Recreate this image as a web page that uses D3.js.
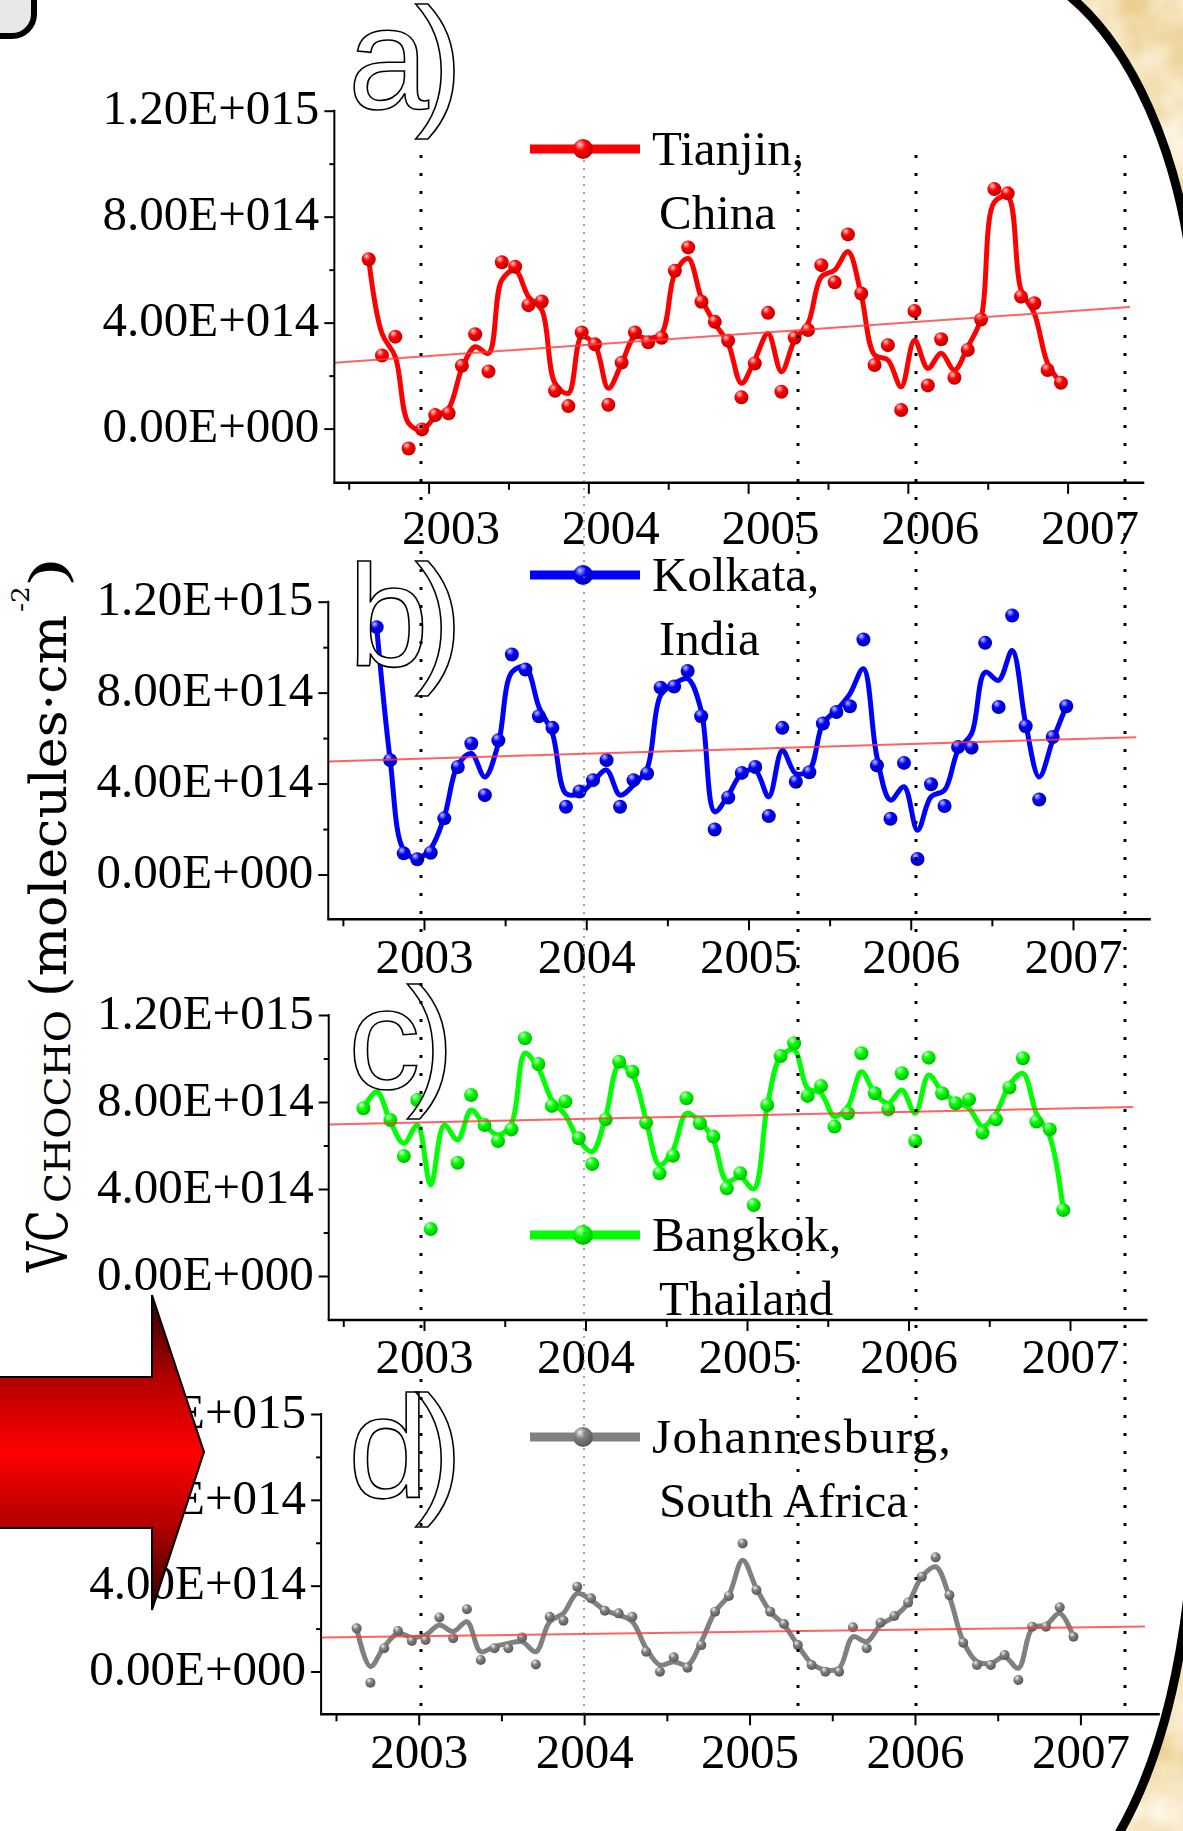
<!DOCTYPE html>
<html>
<head>
<meta charset="utf-8">
<script src="https://cdn.jsdelivr.net/npm/d3@7"></script>
<style>
  html, body { margin: 0; padding: 0; background: #fff; }
  svg { display: block; }
</style>
</head>
<body>
<script>
// -------------------- Data (column values in units of 1E+014 molecules/cm2) --------------------
const months = [
  "2002-08","2002-09","2002-10","2002-11","2002-12",
  "2003-01","2003-02","2003-03","2003-04","2003-05","2003-06","2003-07","2003-08","2003-09","2003-10","2003-11","2003-12",
  "2004-01","2004-02","2004-03","2004-04","2004-05","2004-06","2004-07","2004-08","2004-09","2004-10","2004-11","2004-12",
  "2005-01","2005-02","2005-03","2005-04","2005-05","2005-06","2005-07","2005-08","2005-09","2005-10","2005-11","2005-12",
  "2006-01","2006-02","2006-03","2006-04","2006-05","2006-06","2006-07","2006-08","2006-09","2006-10","2006-11","2006-12"
];

const tianjin = [6.39, 2.76, 3.47, -0.75, -0.03,
  0.51, 0.58, 2.37, 3.56, 2.16, 6.28, 6.11, 4.66, 4.80, 1.43, 0.85, 3.63,
  3.18, 0.90, 2.49, 3.63, 3.26, 3.43, 5.96, 6.84, 4.79, 4.03, 3.32, 1.18,
  2.46, 4.37, 1.39, 3.43, 3.72, 6.17, 5.52, 7.33, 5.10, 2.40, 3.15, 0.70,
  4.44, 1.63, 3.37, 1.92, 2.97, 4.12, 9.04, 8.88, 4.98, 4.73, 2.21, 1.73];
const tianjinFit = [6.39, 3.59, 2.71, 0.20, -0.05,
  0.45, 0.76, 2.27, 3.09, 2.84, 5.61, 5.98, 4.98, 4.48, 1.71, 1.33, 3.47,
  3.15, 1.52, 2.46, 3.47, 3.40, 3.59, 5.86, 6.42, 4.91, 3.97, 3.22, 1.71,
  2.59, 3.59, 2.15, 3.34, 3.97, 5.73, 5.98, 6.68, 5.04, 2.78, 2.59, 1.58,
  3.34, 2.27, 2.84, 2.21, 3.09, 4.16, 8.55, 8.75, 5.23, 4.35, 2.46, 1.73];

const kolkata = [null, 10.88, 5.03, 0.93, 0.67,
  0.96, 2.47, 4.73, 5.76, 3.49, 5.90, 9.68, 9.02, 6.96, 6.45, 2.98, 3.65,
  4.15, 5.03, 2.98, 4.15, 4.44, 8.22, 8.27, 8.95, 6.96, 1.98, 3.39, 4.47,
  4.73, 2.57, 6.45, 4.08, 4.50, 6.64, 7.15, 7.40, 10.34, 4.80, 2.45, 4.91,
  0.68, 3.97, 3.01, 5.61, 5.58, 10.19, 7.37, 11.39, 6.52, 3.30, 6.05, 7.40];
const kolkataFit = [null, 10.88, 5.03, 1.07, 0.71,
  1.15, 2.54, 4.81, 5.32, 4.29, 5.76, 8.90, 9.12, 7.37, 6.20, 3.56, 3.56,
  4.08, 4.59, 3.49, 3.93, 4.66, 7.88, 8.39, 8.61, 7.22, 2.76, 3.49, 4.44,
  4.59, 3.42, 5.46, 4.44, 4.59, 6.64, 7.22, 7.95, 9.05, 5.17, 3.27, 3.86,
  1.95, 3.42, 3.71, 5.46, 6.20, 8.90, 8.54, 9.85, 6.64, 4.29, 5.90, 7.40];

const bangkok = [7.71, null, 7.17, 5.52, 8.09,
  2.16, null, 5.21, 8.32, 6.94, 6.21, 6.74, 10.93, 9.75, 7.82, 8.02, 6.33,
  5.15, 7.20, 9.85, 9.39, 7.05, 4.72, 5.53, 8.17, 7.02, 6.41, 4.03, 4.72,
  3.26, 7.86, 10.11, 10.70, 8.28, 8.74, 6.87, 7.48, 10.24, 8.40, 7.66, 9.32,
  6.21, 10.04, 8.40, 7.94, 8.12, 6.59, 7.20, 8.67, 10.01, 7.10, 6.74, 3.03];
const bangkokFit = [7.71, 8.47, 7.10, 6.10, 6.94,
  4.18, 6.94, 6.25, 7.63, 6.94, 6.48, 7.02, 10.24, 9.55, 8.09, 7.40, 6.25,
  5.72, 7.33, 9.70, 9.24, 7.17, 5.10, 5.79, 7.48, 7.10, 6.25, 4.35, 4.55,
  4.00, 7.79, 10.09, 10.39, 8.63, 8.40, 7.33, 7.79, 9.39, 8.40, 7.94, 8.55,
  7.48, 9.24, 8.47, 8.02, 7.71, 6.87, 7.48, 8.78, 9.32, 7.48, 6.41, 3.03];

const johannesburg = [2.01, -0.52, 1.08, 1.89, 1.42,
  1.47, 2.52, 1.55, 2.90, 0.54, 1.08, 1.08, 1.59, 0.33, 2.55, 2.37, 3.95,
  3.41, 2.83, 2.71, 2.55, 0.92, -0.01, 0.66, 0.18, 1.23, 2.79, 3.52, 5.97,
  3.80, 2.79, 2.21, 1.23, 0.30, -0.01, -0.01, 2.06, 1.08, 2.27, 2.59, 3.21,
  4.42, 5.32, 3.56, 1.34, 0.30, 0.30, 0.77, -0.40, 2.09, 2.09, 2.99, 1.62];
const johannesburgFit = [2.01, 0.23, 1.16, 1.78, 1.59,
  1.70, 2.17, 1.86, 2.32, 0.92, 1.16, 1.31, 1.39, 0.92, 2.32, 2.71, 3.64,
  3.33, 2.86, 2.63, 2.32, 1.08, 0.30, 0.46, 0.30, 1.39, 2.79, 3.56, 5.19,
  3.87, 2.79, 2.17, 1.23, 0.38, 0.07, 0.15, 1.62, 1.39, 2.17, 2.55, 3.18,
  4.42, 4.88, 3.49, 1.39, 0.46, 0.38, 0.69, 0.15, 2.01, 2.17, 2.71, 1.62];

// linear trend lines: value at start and end year
const trendYears = [2002.41, 2007.39];
const tianjinTrend = [2.49, 4.59];
const kolkataTrend = [4.97, 6.04];
const bangkokTrend = [6.97, 7.77];
const johannesburgTrend = [1.58, 2.10];

const yTicks = [0, 4, 8, 12];
const yMinor = [2, 6, 10];
const xTicks = [2003, 2004, 2005, 2006, 2007];
const xMinor = [2002.5, 2003.5, 2004.5, 2005.5, 2006.5];
const xStart = 2002.41, xStop = 2007.48;

// -------------------- Series & layout --------------------
const series = [
  { letter: "a", label: ["Tianjin,", "China"], dots: tianjin, fit: tianjinFit, trend: tianjinTrend,
    color: "#ff0000", light: "#ffd0d0", dark: "#b80000", r: 7 },
  { letter: "b", label: ["Kolkata,", "India"], dots: kolkata, fit: kolkataFit, trend: kolkataTrend,
    color: "#0000ff", light: "#c8c8ff", dark: "#0000a8", r: 7 },
  { letter: "c", label: ["Bangkok,", "Thailand"], dots: bangkok, fit: bangkokFit, trend: bangkokTrend,
    color: "#00ff00", light: "#e0ffe0", dark: "#00b800", r: 7 },
  { letter: "d", label: ["Johannesburg,", "South Africa"], dots: johannesburg, fit: johannesburgFit, trend: johannesburgTrend,
    color: "#808080", light: "#f0f0f0", dark: "#555555", r: 5 }
];

const layout = [
  { x2003: 428.6, x2007: 1067.6, y0: 428.6, y12: 110.7, axisY: 482.8, labelDx: 22, labelDy: 61, letterY: 109, legendY: 149, labelSpacing: 0 },
  { x2003: 424.0, x2007: 1073.0, y0: 874.5, y12: 601.7, axisY: 919.3, labelDx: 0, labelDy: 54, letterY: 666, legendY: 575, labelSpacing: 0 },
  { x2003: 424.0, x2007: 1070.0, y0: 1276, y12: 1015, axisY: 1320, labelDx: 0, labelDy: 53, letterY: 1089, legendY: 1235, labelSpacing: 0 },
  { x2003: 418.7, x2007: 1080.4, y0: 1671.5, y12: 1414, axisY: 1714.3, labelDx: 0, labelDy: 54, letterY: 1497, legendY: 1437, labelSpacing: 1.5 }
];

const W = 1183, H = 1831;
const serif = "'Liberation Serif', 'Times New Roman', serif";

const toYear = s => { const [yy, mm] = s.split("-").map(Number); return yy + (mm - 0.5) / 12; };
const times = months.map(toYear);

const fmt = v => {
  const [m, e] = (v * 1e14).toExponential(2).split("e");
  return m + "E" + e[0] + e.slice(1).padStart(3, "0");
};

// -------------------- SVG --------------------
const svg = d3.select("body").append("svg").attr("width", W).attr("height", H);
const defs = svg.append("defs");

svg.append("rect").attr("width", W).attr("height", H).attr("fill", "#fff");

// parchment texture for the corners outside the big frame
const parch = defs.append("filter").attr("id", "parch")
  .attr("x", 0).attr("y", 0).attr("width", 1).attr("height", 1)
  .attr("color-interpolation-filters", "sRGB");
parch.append("feTurbulence").attr("type", "fractalNoise").attr("baseFrequency", 0.018)
  .attr("numOctaves", 3).attr("seed", 7).attr("result", "n");
parch.append("feColorMatrix").attr("in", "n").attr("type", "matrix")
  .attr("values", "0.12 0 0 0 0.90  0.26 0 0 0 0.76  0.55 0 0 0 0.46  0 0 0 0 1").attr("result", "c");
parch.append("feComposite").attr("in", "c").attr("in2", "SourceGraphic").attr("operator", "in");

const beige = "#f5e2bf";
svg.append("path").attr("d", "M1062,-10 C1128,40 1183,150 1195,300 L1200,300 L1200,-10 Z")
  .attr("fill", beige).attr("filter", "url(#parch)");
svg.append("path").attr("d", "M1195,1500 C1190,1640 1165,1760 1112,1845 L1200,1845 L1200,1500 Z")
  .attr("fill", beige).attr("filter", "url(#parch)");
svg.append("path").attr("d", "M1062,-10 C1128,40 1183,150 1195,300")
  .attr("fill", "none").attr("stroke", "#000").attr("stroke-width", 9);
svg.append("path").attr("d", "M1195,1500 C1190,1640 1165,1760 1112,1845")
  .attr("fill", "none").attr("stroke", "#000").attr("stroke-width", 9);

// rounded box corner top-left
svg.append("rect").attr("x", -40).attr("y", -40).attr("width", 74).attr("height", 76).attr("rx", 22)
  .attr("fill", "#e8e8e8").attr("stroke", "#000").attr("stroke-width", 6);

// sphere gradients
series.forEach((s, i) => {
  const g = defs.append("radialGradient").attr("id", "ball" + i)
    .attr("cx", "40%").attr("cy", "35%").attr("r", "68%").attr("fx", "34%").attr("fy", "26%");
  g.append("stop").attr("offset", "0%").attr("stop-color", s.light);
  g.append("stop").attr("offset", "42%").attr("stop-color", s.color);
  g.append("stop").attr("offset", "100%").attr("stop-color", s.dark);
});

// -------------------- Panels --------------------
series.forEach((s, i) => {
  const p = layout[i];
  const x = d3.scaleLinear().domain([2003, 2007]).range([p.x2003, p.x2007]);
  const y = d3.scaleLinear().domain([0, 12]).range([p.y0, p.y12]);
  const g = svg.append("g");

  const pts = times.map((t, k) => ({ t, v: s.dots[k], f: s.fit[k] }));

  // smoothed curve
  const line = d3.line()
    .defined(d => d.f != null)
    .x(d => x(d.t)).y(d => y(d.f))
    .curve(d3.curveCatmullRom.alpha(0.5));
  g.append("path").datum(pts).attr("d", line)
    .attr("fill", "none").attr("stroke", s.color).attr("stroke-width", 5)
    .attr("stroke-linejoin", "round").attr("stroke-linecap", "round");

  // data points
  g.append("g").selectAll("circle")
    .data(pts.filter(d => d.v != null))
    .join("circle")
    .attr("cx", d => x(d.t)).attr("cy", d => y(d.v)).attr("r", s.r)
    .attr("fill", `url(#ball${i})`);

  // trend line
  g.append("line")
    .attr("x1", x(trendYears[0])).attr("y1", y(s.trend[0]))
    .attr("x2", x(trendYears[1])).attr("y2", y(s.trend[1]))
    .attr("stroke", "#ff3b3b").attr("stroke-opacity", 0.8).attr("stroke-width", 2);

  // axes
  const axisX = x(xStart), axisEnd = x(xStop);
  g.append("line").attr("x1", axisX).attr("x2", axisX).attr("y1", y(12) - 1).attr("y2", p.axisY)
    .attr("stroke", "#000").attr("stroke-width", 2);
  g.append("line").attr("x1", axisX - 1).attr("x2", axisEnd).attr("y1", p.axisY).attr("y2", p.axisY)
    .attr("stroke", "#000").attr("stroke-width", 2.5);

  const styleAxis = sel => {
    sel.select(".domain").remove();
    sel.selectAll("line").attr("stroke", "#000").attr("stroke-width", 2);
    sel.selectAll("text").attr("font-family", serif).attr("font-size", 49).attr("fill", "#000");
  };

  g.append("g").attr("transform", `translate(${axisX},0)`)
    .call(d3.axisLeft(y).tickValues(yTicks).tickSize(10).tickPadding(5).tickFormat(fmt))
    .call(styleAxis)
    .call(a => a.selectAll("text").attr("dy", "0.27em"));
  g.append("g").attr("transform", `translate(${axisX},0)`)
    .call(d3.axisLeft(y).tickValues(yMinor).tickSize(5).tickFormat(""))
    .call(styleAxis);

  g.append("g").attr("transform", `translate(0,${p.axisY})`)
    .call(d3.axisBottom(x).tickValues(xTicks).tickSize(11).tickPadding(p.labelDy - 46).tickFormat(d3.format("d")))
    .call(styleAxis)
    .call(a => a.selectAll("text").attr("dx", p.labelDx));
  g.append("g").attr("transform", `translate(0,${p.axisY})`)
    .call(d3.axisBottom(x).tickValues(xMinor).tickSize(7).tickFormat(""))
    .call(styleAxis);

  // legend
  const lg = g.append("g").attr("font-family", serif).attr("font-size", 49);
  lg.append("line").attr("x1", 530).attr("x2", 640).attr("y1", p.legendY).attr("y2", p.legendY)
    .attr("stroke", s.color).attr("stroke-width", 9);
  lg.append("circle").attr("cx", 583).attr("cy", p.legendY).attr("r", 10).attr("fill", `url(#ball${i})`);
  lg.append("text").attr("x", 652).attr("y", p.legendY + 16)
    .attr("letter-spacing", p.labelSpacing).text(s.label[0]);
  lg.append("text").attr("x", 659).attr("y", p.legendY + 80).text(s.label[1]);

  // outlined panel letter
  g.append("text").attr("x", 348).attr("y", p.letterY)
    .attr("font-family", "'Liberation Sans', Arial, sans-serif").attr("font-size", 145)
    .attr("letter-spacing", -14)
    .attr("fill", "#fff").attr("stroke", "#000").attr("stroke-width", 1.6)
    .text(s.letter + ")");
});

// -------------------- Dotted guide lines --------------------
const guideX = [421, 798, 916, 1125];
svg.append("g").selectAll("line").data(guideX).join("line")
  .attr("x1", d => d).attr("x2", d => d).attr("y1", 155).attr("y2", 1716)
  .attr("stroke", "#000").attr("stroke-width", 3).attr("stroke-dasharray", "3,15");
svg.append("line").attr("x1", 584).attr("x2", 584).attr("y1", 160).attr("y2", 1716)
  .attr("stroke", "#777").attr("stroke-width", 1.3).attr("stroke-dasharray", "2,6");

// -------------------- Y title --------------------
const titleParts = [
  { text: "VC", from: 1272, to: 1210, size: 56, base: 67 },
  { text: "CHOCHO", from: 1203, to: 1010, size: 35, base: 70 },
  { text: "(molecules\u00b7cm", from: 997, to: 615, size: 50, base: 66 },
  { text: "-2", from: 612, to: 586, size: 24, base: 29 },
  { text: ")", from: 588, to: 556, size: 50, base: 66 }
];
svg.append("g").attr("font-family", "'DejaVu Serif', serif").selectAll("text")
  .data(titleParts).join("text")
  .attr("transform", d => `translate(${d.base},${d.from}) rotate(-90)`)
  .attr("font-size", d => d.size)
  .attr("textLength", d => d.from - d.to)
  .attr("lengthAdjust", "spacingAndGlyphs")
  .text(d => d.text);

// -------------------- Red arrow --------------------
const grad = defs.append("linearGradient").attr("id", "arrowGrad")
  .attr("gradientUnits", "userSpaceOnUse").attr("x1", 0).attr("x2", 0).attr("y1", 1295).attr("y2", 1610);
[[0, "#2a0000"], [0.27, "#b40000"], [0.5, "#ff0000"], [0.73, "#b40000"], [1, "#2a0000"]]
  .forEach(([o, c]) => grad.append("stop").attr("offset", o).attr("stop-color", c));
svg.append("path")
  .attr("d", "M-5,1377 L152,1377 L152,1295 L204,1452 L152,1610 L152,1528 L-5,1528 Z")
  .attr("fill", "url(#arrowGrad)").attr("stroke", "#000").attr("stroke-width", 2)
  .attr("stroke-linejoin", "miter");
</script>
</body>
</html>
